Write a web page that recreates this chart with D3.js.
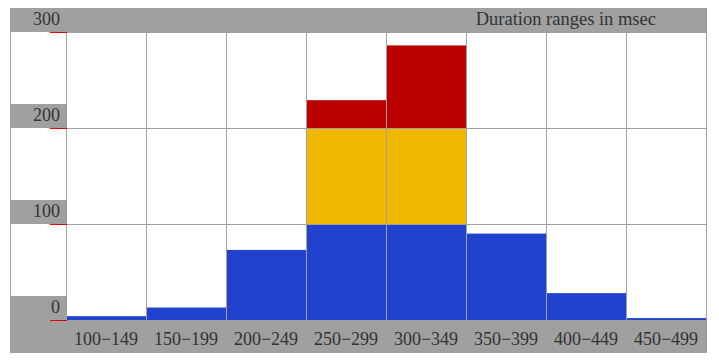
<!DOCTYPE html>
<html>
<head>
<meta charset="utf-8">
<script src="https://cdn.jsdelivr.net/npm/d3@7"></script>
<style>
  body { margin: 0; background: #fff; }
  text { font-family: "Liberation Serif", "Times New Roman", serif; fill: #333; }
</style>
</head>
<body>
<div id="chart"></div>
<script>
// duration buckets and counts
var categories = ["100−149", "150−199", "200−249", "250−299", "300−349", "350−399", "400−449", "450−499"]
var counts = [4, 13, 73, 229, 286, 90, 28, 2]
// colour bands: each bar is painted by value range
var bandLimits = [0, 100, 200, 300]
var bandColors = ["#2142cc", "#f0b800", "#bb0000"]
var yTicks = [0, 100, 200, 300]
var title = "Duration ranges in msec"

var svg = d3.select("#chart").append("svg")
    .attr("width", 719)
    .attr("height", 364)

var x = d3.scaleBand()
    .domain(categories)
    .range([66, 706])
    .padding(0)

var y = d3.scaleLinear()
    .domain([0, 300])
    .range([320, 32])

// frame
svg.append("rect")
    .attr("x", 10).attr("y", 8)
    .attr("width", 697).attr("height", 345)
    .attr("fill", "#a0a0a0")

svg.append("rect")
    .attr("x", 11).attr("y", y(300))
    .attr("width", 706 - 11).attr("height", y(0) - y(300))
    .attr("fill", "#fff")

// bars split into coloured bands
var segments = []
counts.forEach(function(v, i) {
    for (var b = 0; b < bandColors.length; b++) {
        var lo = bandLimits[b], hi = Math.min(v, bandLimits[b + 1])
        if (hi > lo) segments.push({ cat: categories[i], lo: lo, hi: hi, color: bandColors[b] })
    }
})

svg.append("g").selectAll("rect")
    .data(segments)
    .enter().append("rect")
    .attr("x", function(d) { return x(d.cat) })
    .attr("width", x.bandwidth())
    .attr("y", function(d) { return y(d.hi) })
    .attr("height", function(d) { return y(d.lo) - y(d.hi) })
    .attr("fill", function(d) { return d.color })

// grid on top of the bars
var grid = svg.append("g").attr("stroke", "#a0a0a0").attr("stroke-width", 1)

grid.selectAll(".v")
    .data(categories.concat(["end"]))
    .enter().append("line")
    .attr("x1", function(d) { return (d === "end" ? 706 : x(d)) + 0.5 })
    .attr("x2", function(d) { return (d === "end" ? 706 : x(d)) + 0.5 })
    .attr("y1", y(300))
    .attr("y2", y(0))

grid.selectAll(".h")
    .data(yTicks)
    .enter().append("line")
    .attr("x1", 66)
    .attr("x2", 707)
    .attr("y1", function(d) { return y(d) + 0.5 })
    .attr("y2", function(d) { return y(d) + 0.5 })

// y labels with grey tabs and red ticks
var yl = svg.append("g").selectAll("g")
    .data(yTicks)
    .enter().append("g")

yl.append("rect")
    .attr("x", 10)
    .attr("y", function(d) { return y(d) - 24 })
    .attr("width", 57)
    .attr("height", 24)
    .attr("fill", "#a0a0a0")

yl.append("line")
    .attr("x1", 50).attr("x2", 67)
    .attr("y1", function(d) { return y(d) + 0.5 })
    .attr("y2", function(d) { return y(d) + 0.5 })
    .attr("stroke", "#dd0000")

yl.append("text")
    .attr("x", 60)
    .attr("y", function(d) { return y(d) - 7 })
    .attr("text-anchor", "end")
    .style("font-size", "18px")
    .text(function(d) { return d })

// bottom band below the axis
svg.append("rect")
    .attr("x", 10).attr("y", y(0) + 1)
    .attr("width", 697).attr("height", 352 - y(0))
    .attr("fill", "#a0a0a0")

svg.append("g").selectAll("text")
    .data(categories)
    .enter().append("text")
    .attr("x", function(d) { return x(d) + x.bandwidth() / 2 })
    .attr("y", 345)
    .attr("text-anchor", "middle")
    .style("font-size", "18px")
    .text(function(d) { return d })

svg.append("text")
    .attr("x", 656)
    .attr("y", 25)
    .attr("text-anchor", "end")
    .style("font-size", "18.5px")
    .text(title)
</script>
</body>
</html>
